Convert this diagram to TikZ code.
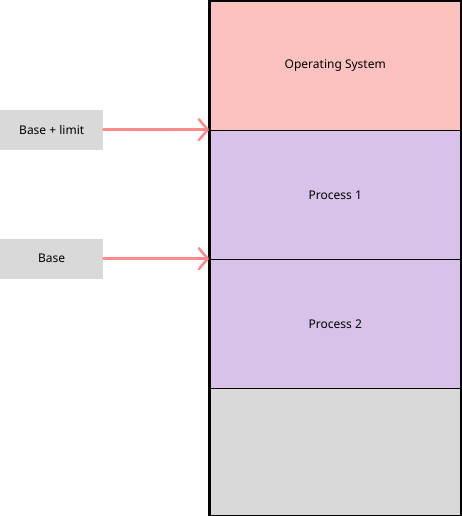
\documentclass[tikz,border=0pt]{standalone}
\usepackage{fontspec}
\setmainfont{Noto Sans}
\usetikzlibrary{arrows.meta}
\definecolor{osfill}{HTML}{FBC2C0}
\definecolor{procfill}{HTML}{D8C2EA}
\definecolor{freefill}{HTML}{D9D9D9}
\definecolor{arrowred}{HTML}{FF8A8A}
\tikzset{
  memblock/.style={draw=black, line width=1.5pt, minimum width=251pt, minimum height=129pt, anchor=north west, inner sep=0pt, font=\fontsize{12}{14}\selectfont},
  regbox/.style={fill=freefill, draw=none, minimum width=103pt, minimum height=40pt, anchor=north west, inner sep=0pt, font=\fontsize{12}{14}\selectfont},
  pointer/.style={draw=arrowred, line width=2.5pt, line cap=round, -{Straight Barb[length=9pt,width=21pt,line width=2.5pt,round]}}
}
\begin{document}
\begin{tikzpicture}[x=1pt,y=-1pt]
  \useasboundingbox (0,0) rectangle (461,516);
  % memory column
  \node[memblock, fill=osfill] (os) at (209,0.75) {Operating System};
  \node[memblock, fill=procfill] (p1) at (209,129.75) {Process 1};
  \node[memblock, fill=procfill] (p2) at (209,258.75) {Process 2};
  \node[memblock, fill=freefill, minimum height=127pt] (free) at (209,387.75) {};
  \draw[line width=1.5pt] (os.north west) rectangle (free.south east);
  % registers
  \node[regbox] (limit) at (0,109.5) {Base + limit};
  \node[regbox] (base) at (0,238.5) {Base};
  \draw[pointer] (limit.east) -- (limit.east -| os.west);
  \draw[pointer] (base.east) -- (base.east -| p1.west);
\end{tikzpicture}
\end{document}
